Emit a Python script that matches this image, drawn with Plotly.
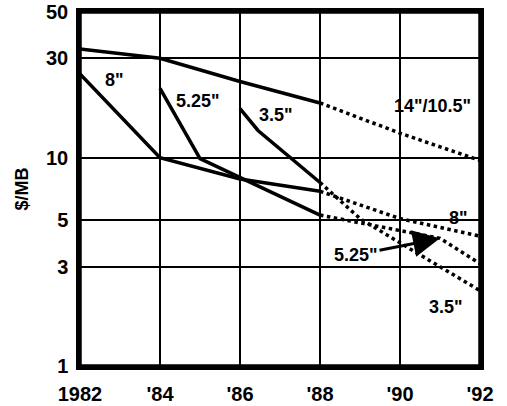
import math
import plotly.graph_objects as go

# ---- data ($/MB on a log scale) ----
tick_years = [1982, 1984, 1986, 1988, 1990, 1992]
tick_year_labels = ["1982", "'84", "'86", "'88", "'90", "'92"]
price_ticks = [1, 3, 5, 10, 30, 50]

hist_years_14 = [1982, 1984, 1986, 1988]
hist_14 = [33.2, 30.0, 23.2, 18.3]
proj_years_14 = [1988, 1990, 1992]
proj_14 = [18.3, 13.1, 9.7]

hist_years_8 = [1982, 1984, 1986, 1988]
hist_8 = [25.2, 10.0, 7.9, 6.9]
proj_years_8 = [1988, 1990, 1992]
proj_8 = [6.9, 5.1, 4.2]

hist_years_525 = [1984, 1985, 1988]
hist_525 = [21.5, 9.9, 5.3]
proj_years_525 = [1988, 1990, 1991, 1992]
proj_525 = [5.3, 4.45, 4.1, 3.1]

hist_years_35 = [1986, 1986.45, 1988]
hist_35 = [17.2, 13.5, 7.6]
proj_years_35 = [1988, 1989, 1990, 1992]
proj_35 = [7.6, 5.1, 3.9, 2.3]

# label positions (year, $/MB) and texts
label_texts = ['8"', '5.25"', '3.5"', '14"/10.5"', '8"', '3.5"']
label_years = [1982.85, 1984.95, 1986.9, 1990.8, 1991.45, 1991.15]
label_values = [23.6, 18.6, 16.1, 17.7, 5.13, 1.92]
arrow_label_text = '5.25"'
arrow_label_year = 1988.9
arrow_label_value = 3.41

FONT = "Arial, Liberation Sans, Helvetica, sans-serif"

fig = go.Figure()

def add_line(x, y, dotted):
    fig.add_trace(go.Scatter(
        x=x, y=y, mode="lines",
        line=dict(color="black", width=3.5,
                  dash="dot" if dotted else "solid"),
        showlegend=False, hoverinfo="skip"))

for hx, hy, px, py in [
    (hist_years_14, hist_14, proj_years_14, proj_14),
    (hist_years_8, hist_8, proj_years_8, proj_8),
    (hist_years_525, hist_525, proj_years_525, proj_525),
    (hist_years_35, hist_35, proj_years_35, proj_35),
]:
    add_line(hx, hy, False)
    add_line(px, py, True)

for t, xv, yv in zip(label_texts, label_years, label_values):
    fig.add_annotation(x=xv, y=math.log10(yv), text="<b>%s</b>" % t, showarrow=False,
                       font=dict(family=FONT, size=18, color="black"))

# arrow from the lower 5.25" label to the 5.25" projection
tip_idx = proj_years_525.index(1991)
fig.add_annotation(
    x=proj_years_525[tip_idx], y=math.log10(proj_525[tip_idx]),
    ax=arrow_label_year, ay=math.log10(arrow_label_value),
    axref="x", ayref="y", xref="x", yref="y",
    text="<b>%s</b>" % arrow_label_text, showarrow=True,
    arrowhead=2, arrowwidth=3, arrowsize=1.8, arrowcolor="black",
    standoff=0,
    font=dict(family=FONT, size=18, color="black"))

# plot frame
fig.add_shape(type="rect", xref="paper", yref="paper", x0=0, y0=0, x1=1, y1=1,
              line=dict(color="black", width=3.5), layer="above")

fig.update_xaxes(
    range=[1982, 1992], tickvals=tick_years,
    ticktext=["<b>%s</b>" % s for s in tick_year_labels],
    showgrid=True, gridcolor="black", gridwidth=2,
    showline=True, mirror=True, linecolor="black", linewidth=3.5,
    zeroline=False, ticks="", ticklabelstandoff=7, automargin=False,
    tickfont=dict(family=FONT, size=20, color="black"))

fig.update_yaxes(
    type="log", range=[0, math.log10(50)], tickvals=price_ticks,
    ticktext=["<b>%d</b>" % v for v in price_ticks],
    showgrid=True, gridcolor="black", gridwidth=2,
    showline=True, mirror=True, linecolor="black", linewidth=3.5,
    zeroline=False, ticks="", ticklabelstandoff=4, automargin=False,
    tickfont=dict(family=FONT, size=20, color="black"),
    title=dict(text="<b>$/MB</b>", standoff=14,
               font=dict(family=FONT, size=18, color="black")))

fig.update_layout(
    width=507, height=406,
    margin=dict(l=80, r=27, t=12, b=40),
    paper_bgcolor="white", plot_bgcolor="white",
    font=dict(family=FONT, color="black"))

# remove the default 8px page margin so the figure fills the window exactly
fig.write_html("out.html",
               config={"displayModeBar": False},
               post_script="document.body.style.margin='0';"
                           "document.body.style.overflow='hidden';")
